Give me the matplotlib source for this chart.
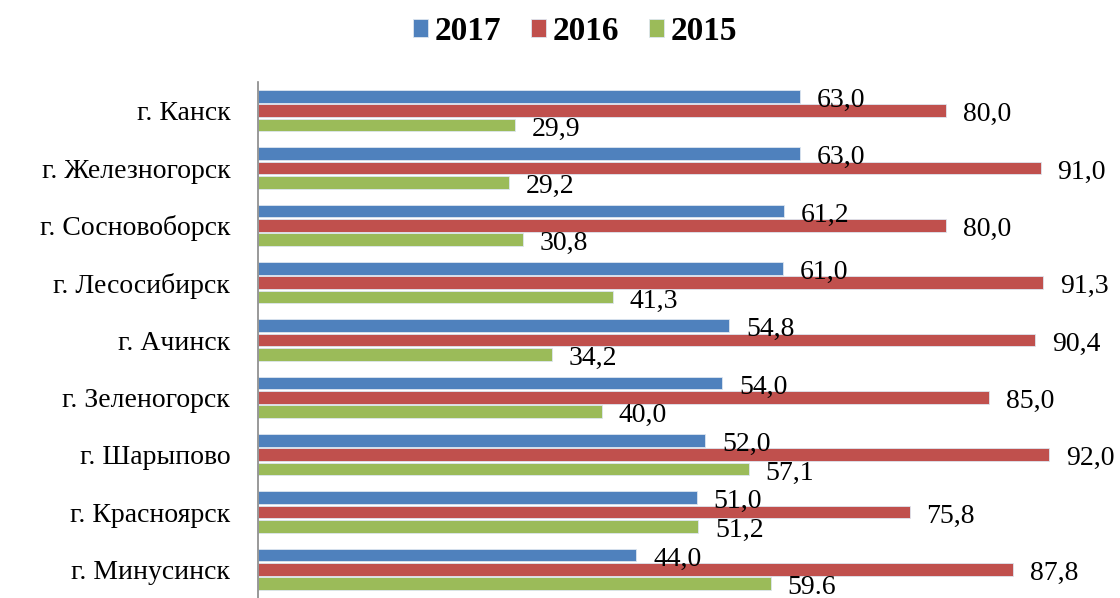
import numpy as np
import matplotlib.pyplot as plt

plt.rcParams['font.family'] = ['Liberation Serif', 'DejaVu Serif']

cities = ['г. Канск', 'г. Железногорск', 'г. Сосновоборск', 'г. Лесосибирск',
          'г. Ачинск', 'г. Зеленогорск', 'г. Шарыпово', 'г. Красноярск',
          'г. Минусинск']
v2017 = [63.0, 63.0, 61.2, 61.0, 54.8, 54.0, 52.0, 51.0, 44.0]
v2016 = [80.0, 91.0, 80.0, 91.3, 90.4, 85.0, 92.0, 75.8, 87.8]
v2015 = [29.9, 29.2, 30.8, 41.3, 34.2, 40.0, 57.1, 51.2, 59.6]
lab2015 = ['29,9', '29,2', '30,8', '41,3', '34,2', '40,0', '57,1', '51,2', '59.6']

series = [('2017', v2017, '#4f81bd', None),
          ('2016', v2016, '#c0504d', None),
          ('2015', v2015, '#9bbb59', lab2015)]

fig = plt.figure(figsize=(11.2, 5.98), dpi=100)
ax = fig.add_axes([258 / 1120, 0, 860 / 1120, (598 - 82) / 598])

y = np.arange(len(cities))
slot = 0.25
for i, (name, vals, col, labs) in enumerate(series):
    pos = y - slot + i * slot
    ax.barh(pos, vals, height=slot * 0.9, color=col, edgecolor='#dde6f0',
            linewidth=0.6, label=name)
    for j, v in enumerate(vals):
        txt = labs[j] if labs else f'{v:.1f}'.replace('.', ',')
        # последняя подпись обрезана нижним краем, как в оригинале
        ax.annotate(txt, (v, pos[j]), xytext=(12, -3), textcoords='offset points',
                    ha='left', va='center', fontsize=20)

ax.set_xlim(0, 100)
ax.set_ylim(len(cities) - 0.5, -0.5)
ax.set_yticks(y)
ax.set_yticklabels(cities, fontsize=20)
ax.tick_params(axis='y', length=0, pad=20)
ax.set_xticks([])
for s in ['top', 'right', 'bottom']:
    ax.spines[s].set_visible(False)
ax.spines['left'].set_color('#888888')
ax.spines['left'].set_linewidth(1.2)

fig.legend(loc='center', bbox_to_anchor=(575 / 1120, 1 - 31 / 598), ncol=3, frameon=False,
           prop={'weight': 'bold', 'size': 24}, handlelength=0.45, handleheight=0.45,
           handletextpad=0.2, columnspacing=0.9)

fig.savefig('out.png', dpi=100)
